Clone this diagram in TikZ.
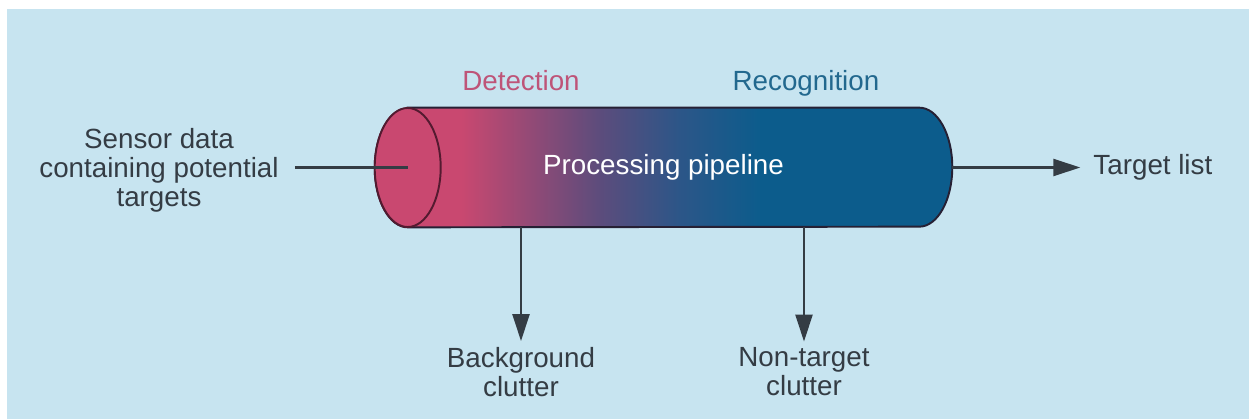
\documentclass[tikz,border=0pt]{standalone}
\usepackage{fontspec}
\setmainfont{Liberation Sans}
\usetikzlibrary{arrows.meta, positioning, backgrounds}

\definecolor{skyback}{RGB}{199,228,240}
\definecolor{inkgray}{RGB}{52,60,68}
\definecolor{detpink}{RGB}{201,72,112}
\definecolor{midmauve}{RGB}{92,76,124}
\definecolor{deepteal}{RGB}{44,86,136}
\definecolor{recblue}{RGB}{12,92,140}
\definecolor{pipeedge}{RGB}{38,32,52}
\definecolor{facerim}{RGB}{84,26,48}
\definecolor{dettext}{RGB}{190,84,120}
\definecolor{rectext}{RGB}{34,104,142}

\pgfdeclarehorizontalshading{pipeshade}{100bp}{color(0bp)=(detpink); color(32.5bp)=(detpink); color(44.5bp)=(midmauve); color(51.4bp)=(deepteal); color(58.4bp)=(recblue); color(100bp)=(recblue)}

\begin{document}
\begin{tikzpicture}[x=0.02cm, y=0.02cm,
        lbl/.style={text=inkgray, font=\fontsize{15.8}{16.6}\selectfont, align=center},
        flow/.style={draw=inkgray, line width=1.5pt, -{Triangle[length=0.54cm, width=0.34cm]}}]
    \useasboundingbox (0,0) rectangle (1249,-419);
    \node[lbl, text=white, minimum width=10.22cm, minimum height=2.38cm, inner sep=0pt] (pipe) at (663.5,-167.5) {Processing pipeline};
    \coordinate (face) at (pipe.west);
    \coordinate (rim) at ([xshift=0.66cm]pipe.east);

    \begin{scope}[on background layer]
        \fill[skyback] (7,-9) rectangle (1249,-419);
        \shadedraw[shading=pipeshade, draw=pipeedge, line width=1.1pt] (pipe.north west) -- (pipe.north east)
            arc[start angle=90, end angle=-90, x radius=33, y radius=59.5] -- (pipe.south west)
            arc[start angle=270, end angle=90, x radius=33, y radius=59.5] -- cycle;
    \end{scope}
    \filldraw[fill=detpink, draw=facerim, line width=1.1pt] (face) ellipse[x radius=33, y radius=59.5];

    \node[lbl, text=dettext, anchor=base] (det) at (521,-90.5) {Detection};
    \node[lbl, text=rectext, anchor=base] (rec) at (806,-90.5) {Recognition};
    \node[lbl] (sensor) at (159,-170) {Sensor data\\containing potential\\targets};
    \node[lbl, anchor=west, right=2.7cm of rim] (target) {Target list};
    \node[lbl] (bgclutter) at (521,-372) {Background\\clutter};
    \node[lbl] (ntclutter) at (804,-372) {Non-target\\clutter};

    \draw[draw=inkgray, line width=1.5pt, shorten <=0.2cm] (sensor.east |- face) -- (face);
    \draw[flow, shorten >=0.14cm] (rim) -- (target.west |- rim);
    \draw[flow] (bgclutter.north |- pipe.south) -- (bgclutter.north);
    \draw[flow] (ntclutter.north |- pipe.south) -- (ntclutter.north);
\end{tikzpicture}
\end{document}
